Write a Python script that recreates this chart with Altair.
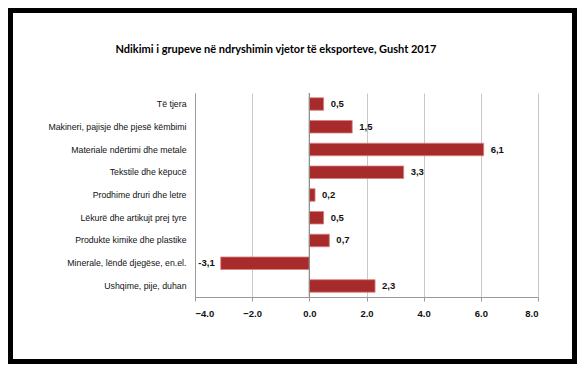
import altair as alt
import pandas as pd

categories = [
    "Të tjera",
    "Makineri, pajisje dhe pjesë këmbimi",
    "Materiale ndërtimi dhe metale",
    "Tekstile dhe këpucë",
    "Prodhime druri dhe letre",
    "Lëkurë dhe artikujt prej tyre",
    "Produkte kimike dhe plastike",
    "Minerale, lëndë djegëse, en.el.",
    "Ushqime, pije, duhan",
]
values = [0.5, 1.5, 6.1, 3.3, 0.2, 0.5, 0.7, -3.1, 2.3]
x_ticks = [-4, -2, 0, 2, 4, 6, 8]
title_text = "Ndikimi i grupeve në ndryshimin vjetor të eksporteve, Gusht 2017"

df = pd.DataFrame({
    "cat": categories,
    "val": values,
    "label": [f"{v:.1f}".replace(".", ",") for v in values],
})

W, H = 343, 204
PL, PT, PR, PB = 187, 85, 39, 67

x_scale = alt.Scale(domain=[-4, 8], nice=False, zero=False)
y_scale = alt.Scale(domain=categories, paddingInner=0.45, paddingOuter=0.21)

base = alt.Chart(df)

bars = base.mark_bar(color="#a82b2b", stroke="#d98080", strokeWidth=0.8).encode(
    x=alt.X("val:Q", scale=x_scale,
            axis=alt.Axis(values=x_ticks, format=".1f", title=None, grid=True,
                          gridColor="#c8c8c8", gridWidth=1, domainColor="#9a9a9a",
                          tickColor="#9a9a9a", tickSize=4, labelFontSize=9.5,
                          labelFontWeight="bold", labelFont="Liberation Sans",
                          labelColor="#111", labelPadding=7)),
    y=alt.Y("cat:N", scale=y_scale, sort=categories,
            axis=alt.Axis(title=None, ticks=False, domainColor="#9a9a9a",
                          labelFontSize=8.75, labelFont="Liberation Sans",
                          labelColor="#111", labelPadding=9, labelLimit=300)),
)

zero = alt.Chart(pd.DataFrame({"z": [0]})).mark_rule(color="#8a8a8a", strokeWidth=1.2).encode(
    x=alt.X("z:Q", scale=x_scale)
)

pos_labels = base.transform_filter("datum.val >= 0").mark_text(
    align="left", baseline="middle", dx=7, fontSize=9.5, fontWeight="bold",
    font="Liberation Sans", color="#111"
).encode(x=alt.X("val:Q", scale=x_scale), y=alt.Y("cat:N", scale=y_scale, sort=categories), text="label:N")

neg_labels = base.transform_filter("datum.val < 0").mark_text(
    align="right", baseline="middle", dx=-6, fontSize=9.5, fontWeight="bold",
    font="Liberation Sans", color="#111"
).encode(x=alt.X("val:Q", scale=x_scale), y=alt.Y("cat:N", scale=y_scale, sort=categories), text="label:N")

one = pd.DataFrame({"t": [title_text]})
title = alt.Chart(one).mark_text(
    align="center", baseline="middle", fontSize=11, fontWeight="bold",
    font="Lato", color="#000"
).encode(x=alt.value(276 - 195), y=alt.value(50 - 93), text="t:N")

border = alt.Chart(one).mark_rect(fill="transparent", stroke="#000", strokeWidth=5).encode(
    x=alt.value(-PL + 2.5), x2=alt.value(W + PR - 2.5),
    y=alt.value(-PT + 2.5), y2=alt.value(H + PB - 2.5),
)

chart = alt.layer(bars, zero, pos_labels, neg_labels, title, border).properties(
    width=W, height=H,
    autosize=alt.AutoSizeParams(type="none"),
    padding={"left": PL, "top": PT, "right": PR, "bottom": PB},
    background="white",
).configure_view(stroke=None)

chart.save("out.html", embed_options={"renderer": "svg", "actions": False})
